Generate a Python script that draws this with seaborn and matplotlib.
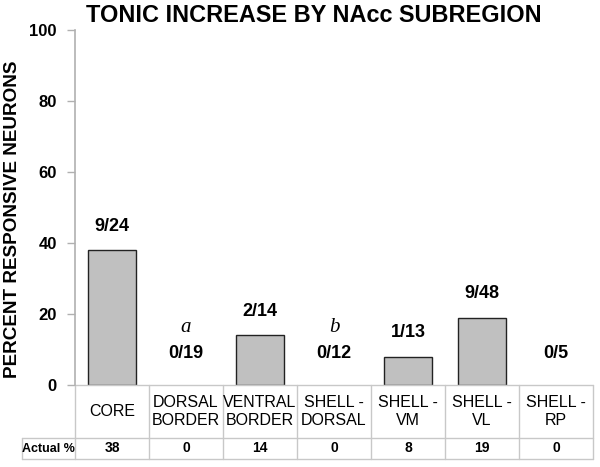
import matplotlib
matplotlib.use("Agg")
import matplotlib.pyplot as plt
import matplotlib.transforms as mtransforms
import seaborn as sns
import pandas as pd

categories = ["CORE", "DORSAL\nBORDER", "VENTRAL\nBORDER", "SHELL -\nDORSAL",
              "SHELL -\nVM", "SHELL -\nVL", "SHELL -\nRP"]
percent = [38, 0, 14, 0, 8, 19, 0]
counts = ["9/24", "0/19", "2/14", "0/12", "1/13", "9/48", "0/5"]
letters = ["", "a", "", "b", "", "", ""]
actual_pct = ["38", "0", "14", "0", "8", "19", "0"]
yticks = [0, 20, 40, 60, 80, 100]

sns.set_style("white")
plt.rcParams['font.family'] = ['Liberation Sans', 'DejaVu Sans']
plt.rcParams['text.color'] = 'black'
plt.rcParams['ytick.labelcolor'] = 'black'

W, H = 600, 467
fig = plt.figure(figsize=(6, 4.67), dpi=100)
L, R, B, T = 75, 593, 385, 30
ax = fig.add_axes([L / W, (H - B) / H, (R - L) / W, (B - T) / H])

df = pd.DataFrame({"cat": categories, "pct": percent})
sns.barplot(data=df, x="cat", y="pct", color="#c0c0c0", edgecolor="#222222",
            linewidth=1.0, width=0.65, saturation=1, ax=ax)
for p in ax.patches:
    if p.get_height() == 0:
        p.set_visible(False)
ax.set_xlim(-0.5, 6.5)
ax.set_ylim(0, 100)
ax.set_xlabel("")
ax.set_ylabel("")
ax.set_xticks([])
ax.set_yticks(yticks)
ax.set_yticklabels([str(v) for v in yticks], fontsize=12, fontweight="bold",
                   color="black")
ax.tick_params(axis="y", left=True, length=6, width=1, color="#b0b0b0", pad=7)
for s in ["top", "right", "bottom"]:
    ax.spines[s].set_visible(False)
ax.spines["left"].set_color("#b0b0b0")
ax.spines["left"].set_linewidth(1.2)

fig.text(13 / W, 1 - 219 / H, "PERCENT RESPONSIVE NEURONS", rotation=90,
         ha="center", va="center", fontsize=13.6, fontweight="bold", color="black")

for i, (v, c, l) in enumerate(zip(percent, counts, letters)):
    off = 32 if v == 0 else 24
    ax.annotate(c, (i, v), xytext=(0, off), textcoords="offset pixels",
                ha="center", va="center", fontsize=13, fontweight="bold",
                color="black")
    if l:
        ax.annotate(l, (i, v), xytext=(0, 58), textcoords="offset pixels",
                    ha="center", va="center", fontsize=15, fontstyle="italic",
                    family=["Liberation Serif", "DejaVu Serif"], color="black")

fig.suptitle("TONIC INCREASE BY NAcc SUBREGION", x=314 / W, y=1 - 15 / H,
             va="center", fontsize=16.9, fontweight="bold", color="black")

# table below the axis
trans = mtransforms.blended_transform_factory(ax.transData, ax.transAxes)
ph = B - T
y_top = 0.0
y_mid = -(438 - B) / ph
y_bot = -(459 - B) / ph
gc = "#c8c8c8"
x_left_cell = -0.5 - (L - 22) / ((R - L) / 7)
n = len(categories)
kw = dict(transform=trans, clip_on=False, color=gc, lw=1.0)
ax.plot([-0.5, n - 0.5], [y_top, y_top], **kw)
ax.plot([x_left_cell, n - 0.5], [y_mid, y_mid], **kw)
ax.plot([x_left_cell, n - 0.5], [y_bot, y_bot], **kw)
ax.plot([x_left_cell, x_left_cell], [y_mid, y_bot], **kw)
for k in range(n + 1):
    ax.plot([k - 0.5, k - 0.5], [y_top, y_bot], **kw)

for i, (c, a) in enumerate(zip(categories, actual_pct)):
    ax.text(i, (y_top + y_mid) / 2, c, transform=trans, ha="center", va="center",
            fontsize=11.5, linespacing=1.3, color="black")
    ax.text(i, (y_mid + y_bot) / 2, a, transform=trans, ha="center", va="center",
            fontsize=10, fontweight="bold", color="black")
ax.text((x_left_cell - 0.5) / 2, (y_mid + y_bot) / 2, "Actual %", transform=trans,
        ha="center", va="center", fontsize=9, fontweight="bold", color="black")

fig.savefig("out.png", dpi=100)
